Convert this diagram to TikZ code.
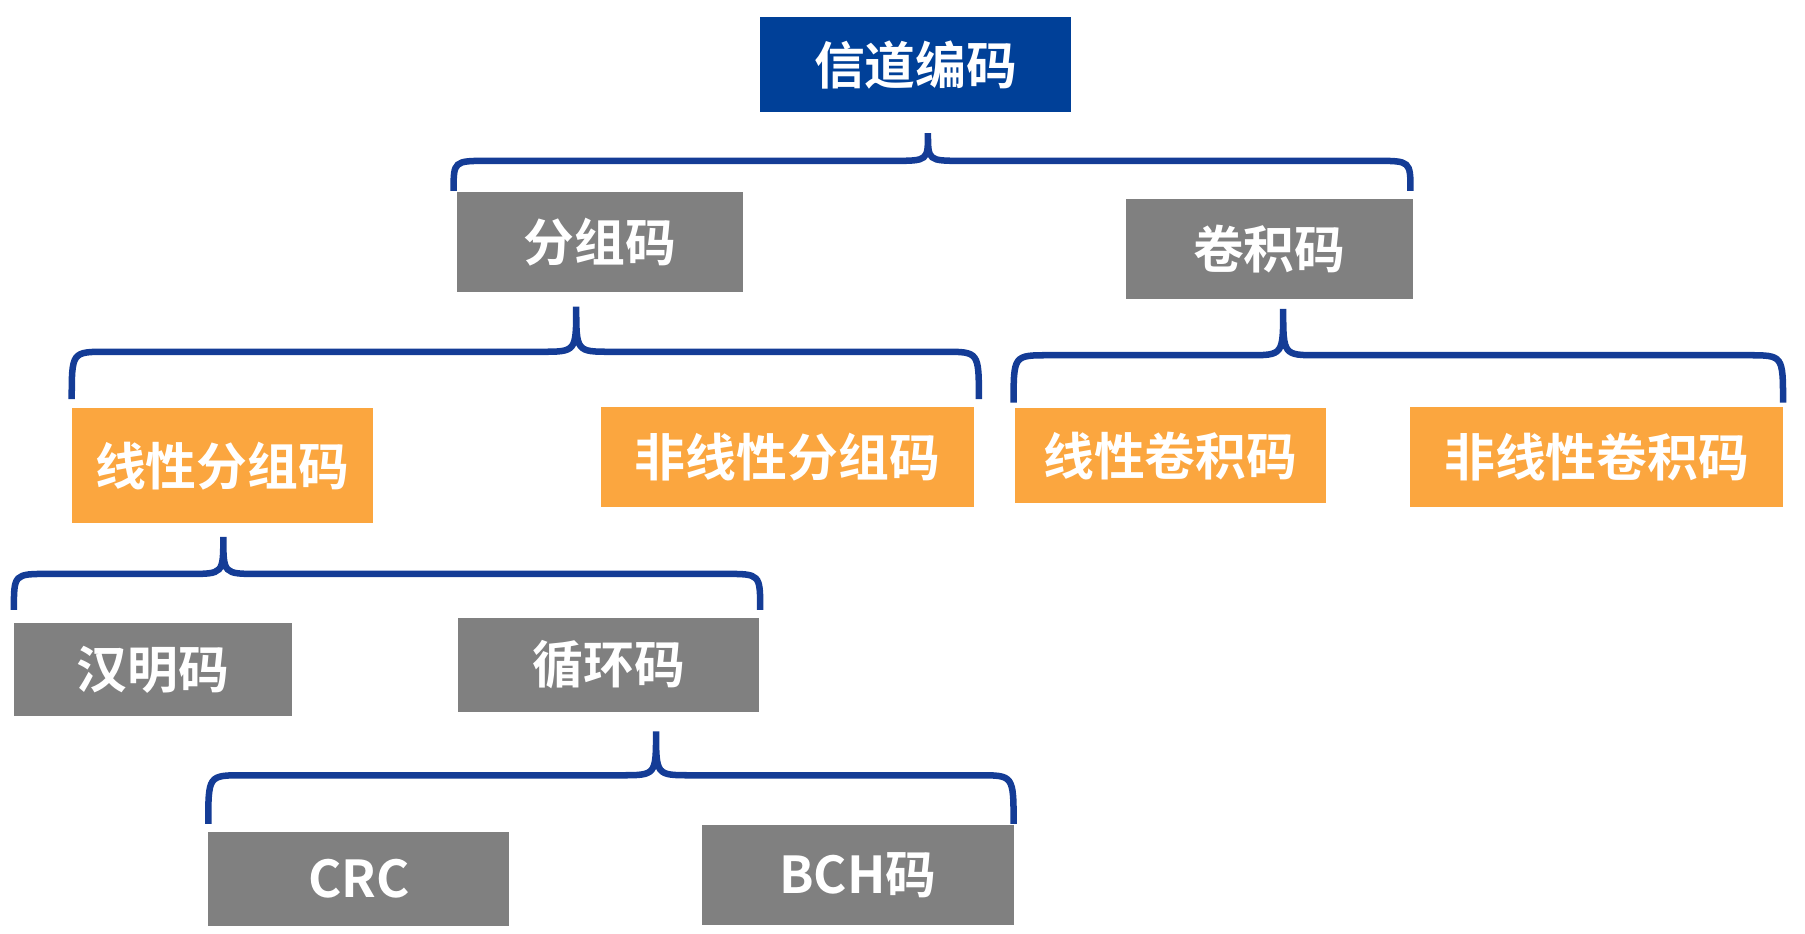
\documentclass[tikz,border=0pt]{standalone}
\usepackage{fontspec}
\setmainfont{Liberation Serif}
\newfontfamily\cjk{Noto Sans CJK SC}[BoldFont={* Bold}]
\usetikzlibrary{positioning}
\definecolor{codeblue}{RGB}{0,64,152}
\definecolor{codegray}{RGB}{128,128,128}
\definecolor{codeorange}{RGB}{251,166,63}
\definecolor{bracecol}{RGB}{20,60,150}

% brace: left x, tip x, right x, foot y, bar y, tip y
\newcommand{\treebrace}[6]{%
  \draw[brace] (#1,#4) .. controls (#1,#5) .. (#1+0.3,#5) -- (#2-0.3,#5)
    .. controls (#2,#5) .. (#2,#6) .. controls (#2,#5) .. (#2+0.3,#5)
    -- (#3-0.3,#5) .. controls (#3,#5) .. (#3,#4);}

\begin{document}
\begin{tikzpicture}[
    box/.style={rectangle, draw=none, text=white, inner sep=0pt, align=center,
      font=\cjk\bfseries\fontsize{12.5}{14}\selectfont},
    root/.style={box, fill=codeblue},
    mid/.style={box, fill=codegray},
    leaf/.style={box, fill=codeorange},
    brace/.style={draw=bracecol, line width=1.6pt}
]
\useasboundingbox (0,0) rectangle (15.6,-8.07);

\node[root, minimum width=2.69cm, minimum height=0.82cm] (chan) at (7.915,-0.56) {信道编码};

\node[mid, minimum width=2.47cm, minimum height=0.86cm] (block) at (5.185,-2.09) {分组码};
\node[mid, minimum width=2.48cm, minimum height=0.86cm] (conv) at (10.97,-2.15) {卷积码};

\node[leaf, minimum width=2.60cm, minimum height=0.99cm] (linblk) at (1.92,-4.025) {线性分组码};
\node[leaf, minimum width=3.23cm, minimum height=0.86cm] (nlblk) at (6.805,-3.95) {非线性分组码};
\node[leaf, minimum width=2.69cm, minimum height=0.82cm] (linconv) at (10.115,-3.94) {线性卷积码};
\node[leaf, minimum width=3.22cm, minimum height=0.86cm] (nlconv) at (13.80,-3.95) {非线性卷积码};

\node[mid, minimum width=2.40cm, minimum height=0.81cm] (hamming) at (1.32,-5.785) {汉明码};
\node[mid, minimum width=2.60cm, minimum height=0.81cm] (cyclic) at (5.26,-5.745) {循环码};

\node[mid, minimum width=2.60cm, minimum height=0.81cm] (crc) at (3.10,-7.595) {\bfseries CRC};
\node[mid, minimum width=2.69cm, minimum height=0.86cm] (bch) at (7.415,-7.56) {\bfseries BCH码};

% braces
\treebrace{3.92}{8.02}{12.19}{-1.65}{-1.39}{-1.15}
\treebrace{0.62}{4.98}{8.46}{-3.45}{-3.04}{-2.65}
\treebrace{8.76}{11.09}{15.41}{-3.48}{-3.07}{-2.67}
\treebrace{0.12}{1.93}{6.57}{-5.27}{-4.96}{-4.64}
\treebrace{1.80}{5.67}{8.76}{-7.12}{-6.70}{-6.32}

\end{tikzpicture}
\end{document}
